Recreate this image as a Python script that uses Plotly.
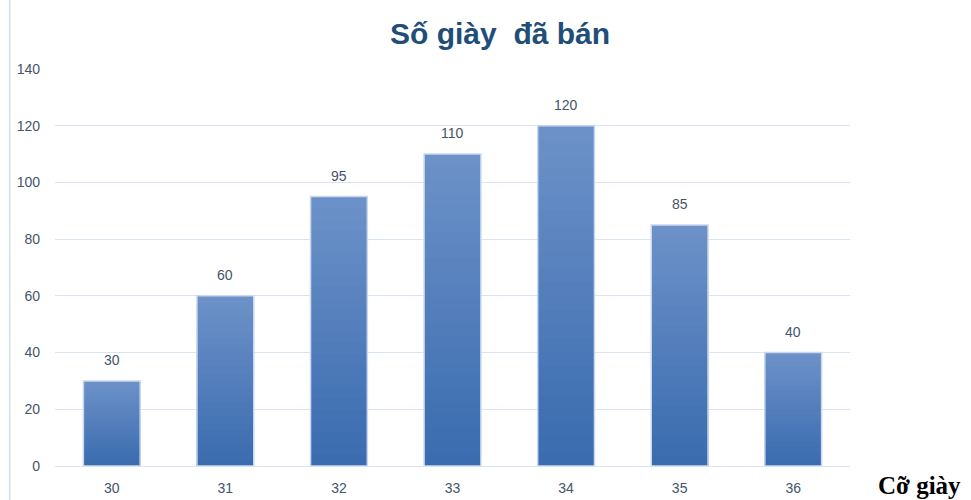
import plotly.graph_objects as go

categories = ["30", "31", "32", "33", "34", "35", "36"]
values = [30, 60, 95, 110, 120, 85, 40]
y_ticks = [0, 20, 40, 60, 80, 100, 120, 140]
title_text = "Số giày  đã bán"
x_label = "Cỡ giày"

fig = go.Figure()

# gradient effect: stacked overlays from light (top) to dark (bottom)
N = 24
top_rgb = (108, 145, 200)
bot_rgb = (58, 108, 175)
for i in range(N):
    f = 1 - i / N
    t = i / (N - 1)
    r = round(top_rgb[0] + (bot_rgb[0] - top_rgb[0]) * t)
    g = round(top_rgb[1] + (bot_rgb[1] - top_rgb[1]) * t)
    b = round(top_rgb[2] + (bot_rgb[2] - top_rgb[2]) * t)
    fig.add_trace(go.Bar(
        x=categories, y=[v * f for v in values],
        marker=dict(color=f"rgb({r},{g},{b})", line=dict(width=0)),
        hoverinfo="skip", showlegend=False,
    ))
# outline on top
fig.add_trace(go.Bar(
    x=categories, y=values,
    marker=dict(color="rgba(0,0,0,0)", line=dict(color="#C9D8EE", width=1.5)),
    showlegend=False,
))

for idx, v in enumerate(values):
    fig.add_annotation(x=idx, y=v, text=str(v), showarrow=False, yshift=21,
                       font=dict(family="Liberation Sans, Arial", size=14, color="#44546A"))

fig.add_annotation(xref="paper", yref="paper", x=1.088, y=-0.048, xanchor="center", yanchor="middle",
                   text=f"<b>{x_label}</b>", showarrow=False,
                   font=dict(family="Liberation Serif, Times New Roman", size=25, color="black"))

fig.add_shape(type="line", xref="paper", yref="paper", x0=-0.057, x1=-0.057, y0=-0.1, y1=1.2,
              line=dict(color="#D3DEEE", width=1.5))

fig.update_layout(
    width=971, height=500,
    barmode="overlay", bargap=0.5,
    paper_bgcolor="white", plot_bgcolor="white",
    margin=dict(l=55, r=121, t=69, b=34, autoexpand=False),
    title=dict(text=f"<b>{title_text}</b>", x=0.515, xanchor="center", y=0.934, yanchor="middle",
               font=dict(family="Liberation Sans, Arial", size=30, color="#1F4E79")),
    xaxis=dict(type="category", showgrid=False, showline=False, ticks="", ticklabelstandoff=12,
               automargin=False,
               tickfont=dict(family="Liberation Sans, Arial", size=14, color="#44546A"),
               range=[-0.5, 6.5]),
    yaxis=dict(range=[0, 140], tickvals=y_ticks, showgrid=True, gridcolor="#D9E3F1", gridwidth=1,
               zeroline=True, zerolinecolor="#D9E3F1", zerolinewidth=1, showline=False,
               ticks="", ticklabelstandoff=14, automargin=False,
               tickfont=dict(family="Liberation Sans, Arial", size=14, color="#44546A")),
)

fig.write_html("out.html", config={"displayModeBar": False},
               post_script="document.body.style.margin='0px';")
